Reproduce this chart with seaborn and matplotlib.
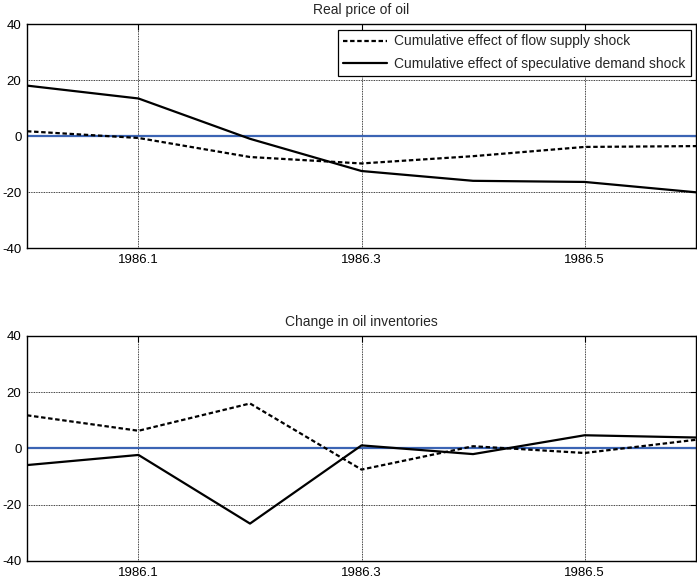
import matplotlib
matplotlib.use("Agg")
import matplotlib.pyplot as plt
import seaborn as sns
import pandas as pd

# Monthly decomposition, 1986.0 - 1986.6
periods = [1986.0, 1986.1, 1986.2, 1986.3, 1986.4, 1986.5, 1986.6]

price_flow_supply = [1.7, -0.7, -7.5, -9.8, -7.2, -3.9, -3.6]
price_speculative = [18.0, 13.4, -1.0, -12.5, -16.0, -16.4, -20.1]

inv_flow_supply = [11.8, 6.3, 16.0, -7.5, 0.8, -1.6, 3.1]
inv_speculative = [-5.9, -2.3, -26.7, 1.1, -2.0, 4.7, 3.9]

panel_titles = ["Real price of oil", "Change in oil inventories"]
series_labels = ["Cumulative effect of flow supply shock",
                 "Cumulative effect of speculative demand shock"]
x_ticks = [1986.1, 1986.3, 1986.5]
y_ticks = [-40, -20, 0, 20, 40]

sns.set_style("white")
plt.rcParams["font.family"] = ["Liberation Sans", "DejaVu Sans"]
plt.rcParams["axes.linewidth"] = 1.0
plt.rcParams["axes.unicode_minus"] = False

fig = plt.figure(figsize=(6.97, 5.84), dpi=100)
ax_top = fig.add_axes([0.0387, 0.5753, 0.9600, 0.3836])
ax_bot = fig.add_axes([0.0387, 0.0394, 0.9600, 0.3853])

panels = [
    (ax_top, price_flow_supply, price_speculative),
    (ax_bot, inv_flow_supply, inv_speculative),
]

for i, (ax, flow, spec) in enumerate(panels):
    df = pd.DataFrame({"period": periods, "flow": flow, "spec": spec})
    ax.axhline(0, color="#3b64b4", lw=1.6, zorder=2)
    sns.lineplot(data=df, x="period", y="flow", ax=ax, color="black",
                 lw=1.6, linestyle=(0, (2.0, 1.2)), label=series_labels[0],
                 zorder=3)
    sns.lineplot(data=df, x="period", y="spec", ax=ax, color="black",
                 lw=1.6, label=series_labels[1], zorder=3)

    ax.set_xlim(1986.0, 1986.6)
    ax.set_ylim(-40, 40)
    ax.set_xticks(x_ticks)
    ax.set_xticklabels([f"{t:.1f}" for t in x_ticks])
    ax.set_yticks(y_ticks)
    ax.set_xlabel("")
    ax.set_ylabel("")
    ax.set_title(panel_titles[i], fontsize=10, pad=7)
    ax.tick_params(direction="in", length=4, width=0.8, labelsize=9.5,
                   top=True, right=True, pad=4, colors="black")
    ax.grid(True, color="black", lw=0.6, linestyle=(0, (1, 1)))
    for s in ax.spines.values():
        s.set_color("black")
        s.set_linewidth(1.0)

    if i == 0:
        leg = ax.legend(loc="upper right", fontsize=10, frameon=True,
                        fancybox=False, framealpha=1, edgecolor="black",
                        handlelength=3.2, borderaxespad=0.4,
                        borderpad=0.35, labelspacing=0.6,
                        handletextpad=0.5)
        leg.get_frame().set_linewidth(0.9)
    else:
        ax.get_legend().remove()

fig.savefig("out.png", dpi=100)
